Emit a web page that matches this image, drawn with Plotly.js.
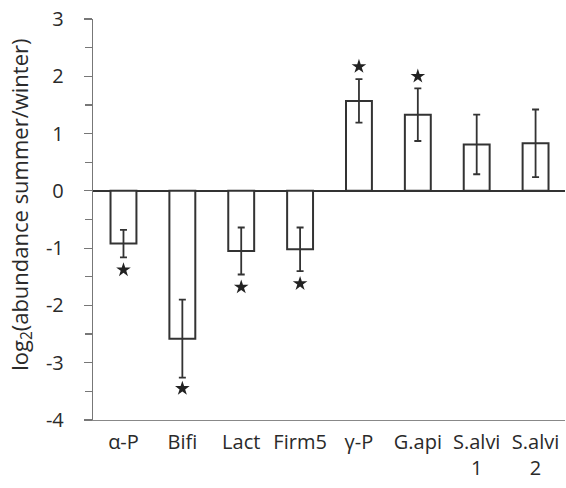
<!DOCTYPE html>
<html><head><meta charset="utf-8">
<script src="https://cdn.plot.ly/plotly-3.0.1.min.js"></script>
<style>html,body{margin:0;padding:0;background:#fff}</style>
</head><body><div id="chart" style="width:566px;height:488px"></div>
<script>
var categories = ["α-P","Bifi","Lact","Firm5","γ-P","G.api","S.alvi<br>1","S.alvi<br>2"];
var values = [-0.92,-2.58,-1.05,-1.02,1.57,1.33,0.81,0.83];
var errors = [0.24,0.68,0.41,0.38,0.38,0.46,0.52,0.59];
var starCats = ["α-P","Bifi","Lact","Firm5","γ-P","G.api"];
var starY = [-1.38,-3.45,-1.68,-1.62,2.17,2.0];
var yTickVals = [-4,-3,-2,-1,0,1,2,3];
var yTickText = ["-4","-3","-2","-1","0","1","2","3"];
var yTitle = 'log<sub>2</sub>(abundance summer/winter)';

var bars = {
  type:'bar', x:categories, y:values,
  marker:{color:'rgba(255,255,255,1)', line:{color:'#333', width:2}},
  error_y:{type:'data', array:errors, visible:true, color:'#333', thickness:1.8, width:3.5},
  hoverinfo:'none'
};
var stars = {
  type:'scatter', mode:'markers', x:starCats, y:starY,
  marker:{symbol:'star', size:11, color:'#222', line:{width:0}},
  hoverinfo:'none'
};
var layout = {
  width:566, height:488,
  margin:{l:93, r:1, t:19, b:68},
  showlegend:false,
  plot_bgcolor:'#fff', paper_bgcolor:'#fff',
  bargap:0.56,
  font:{family:'"Open Sans", sans-serif', color:'#2a2a2a', size:20},
  xaxis:{type:'category', showline:true, linecolor:'#888', linewidth:1.2, ticks:'', showgrid:false,
         tickfont:{size:20}, ticklabelstandoff:4, automargin:false},
  yaxis:{range:[-4,3], tickmode:'array', tickvals:yTickVals, ticktext:yTickText,
         showline:true, linecolor:'#777', linewidth:1.2,
         ticks:'outside', ticklen:8, tickcolor:'#777', tickwidth:1.2, showgrid:false,
         minor:{dtick:0.5, tick0:0, ticks:'outside', ticklen:7, tickcolor:'#777', tickwidth:1.2, showgrid:false},
         zeroline:true, zerolinecolor:'#333', zerolinewidth:1.5,
         tickfont:{size:20}, ticklabelstandoff:16,
         automargin:false},
  annotations:[{text:yTitle, xref:'paper', yref:'paper', x:-0.153, y:0.536,
                xanchor:'center', yanchor:'middle', textangle:-90, showarrow:false,
                font:{size:22, color:'#2a2a2a'}}]
};
Plotly.newPlot('chart',[bars,stars],layout,{displayModeBar:false,staticPlot:true});
</script></body></html>
